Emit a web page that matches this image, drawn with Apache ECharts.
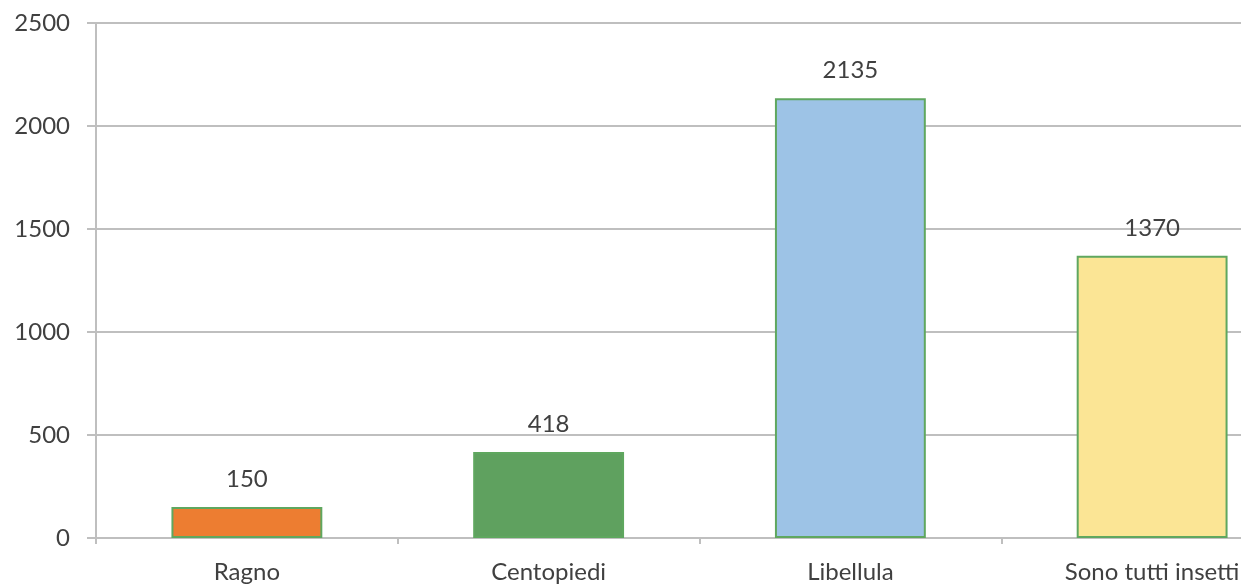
<!DOCTYPE html>
<html>
<head>
<meta charset="utf-8">
<script src="https://cdn.jsdelivr.net/npm/echarts@6/dist/echarts.min.js"></script>
<style>
  html, body { margin: 0; padding: 0; background: #fff; overflow: hidden; }
  #main { width: 1303px; height: 584px; }
</style>
</head>
<body>
<div id="main"></div>
<script>
// dati
const categories = ['Ragno', 'Centopiedi', 'Libellula', 'Sono tutti insetti'];
const values = [150, 418, 2135, 1370];
const barColors = ['#ED7D31', '#5FA15F', '#9DC3E6', '#FBE595'];

const chart = echarts.init(document.getElementById('main'));

const option = {
  backgroundColor: '#ffffff',
  animation: false,
  textStyle: { fontFamily: 'Lato, "Open Sans", sans-serif' },
  grid: { left: 96, right: 0, top: 23, bottom: 44, containLabel: false },
  xAxis: {
    type: 'category',
    data: categories,
    axisLine: { lineStyle: { color: '#bfbfbf', width: 2 } },
    axisTick: { show: true, length: 6, lineStyle: { color: '#bfbfbf', width: 2 } },
    axisLabel: { color: '#404040', fontSize: 24, margin: 22 }
  },
  yAxis: {
    type: 'value',
    min: 0,
    max: 2500,
    interval: 500,
    axisLine: { show: true, lineStyle: { color: '#bfbfbf', width: 2 } },
    axisTick: { show: true, length: 9, lineStyle: { color: '#bfbfbf', width: 2 } },
    splitLine: { lineStyle: { color: '#bfbfbf', width: 2 } },
    axisLabel: { color: '#404040', fontSize: 24, margin: 26, formatter: v => String(v) }
  },
  series: [{
    type: 'bar',
    barWidth: '50%',
    data: values.map((v, i) => ({
      value: v,
      itemStyle: { color: barColors[i] }
    })),
    itemStyle: { borderColor: '#5FA75F', borderWidth: 2 },
    label: {
      show: true,
      position: 'top',
      distance: 16,
      color: '#404040',
      fontSize: 24
    }
  }]
};

chart.setOption(option);
</script>
</body>
</html>
